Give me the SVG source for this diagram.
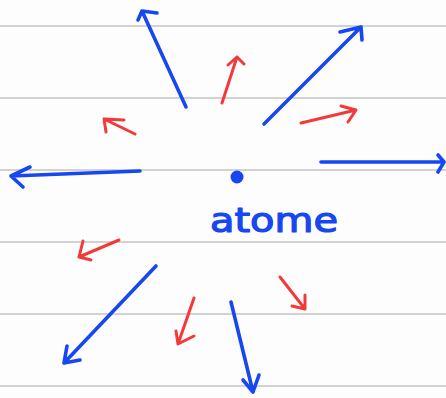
<svg xmlns="http://www.w3.org/2000/svg" width="446" height="398" viewBox="0 0 446 398">
<style>
.rule{stroke:#d2d2d2;stroke-width:2.2}
.b{fill:none;stroke:#1747f0;stroke-width:3.6;stroke-linecap:round;stroke-linejoin:round}
.r{fill:none;stroke:#f23a3a;stroke-width:3;stroke-linecap:round;stroke-linejoin:round}
.lbl{font-family:"DejaVu Sans","Liberation Sans",sans-serif;font-size:33px;fill:#1747f0;stroke:#1747f0;stroke-width:1.2;stroke-linejoin:round}
</style>
<rect width="446" height="398" fill="#fdfdfe"/>
<g id="paper">
<line class="rule" x1="0" y1="26" x2="446" y2="26"/>
<line class="rule" x1="0" y1="98" x2="446" y2="98"/>
<line class="rule" x1="0" y1="170" x2="446" y2="170"/>
<line class="rule" x1="0" y1="242" x2="446" y2="242"/>
<line class="rule" x1="0" y1="314" x2="446" y2="314"/>
<line class="rule" x1="0" y1="386" x2="446" y2="386"/>
</g>
<g id="connectors">
<path class="b" d="M186,107 L142,11 M157,13 L142,11 L138,20"/>
<path class="r" d="M222,103 L237,57 M228,65 L237,57 L244,64"/>
<path class="b" d="M264,124 L361,27 M340,32 L361,27 L362,40"/>
<path class="r" d="M301,123 L356,110 M341,106 L356,110 L348,122"/>
<path class="r" d="M135,134 L104,119 M124,120 L104,119 L106,132"/>
<path class="b" d="M140,171 L11,176 M30,167 L11,176 L23,187"/>
<path class="b" d="M321,162 L444,162 M438,155 L444,162 L438,172"/>
<path class="r" d="M119,240 L79,257 M83,241 L79,257 L91,260"/>
<path class="b" d="M156,266 L64,363 M67,346 L64,363 L80,360"/>
<path class="r" d="M194,298 L178,344 M176,331 L178,344 L194,336"/>
<path class="b" d="M231,302 L253,392 M243,380 L253,392 L259,375"/>
<path class="r" d="M280,277 L305,309 M292,306 L305,309 L305,295"/>
</g>
<g id="atome">
<circle cx="237" cy="177" r="6.5" fill="#1747f0"/>
<text class="lbl" x="210" y="232" textLength="128" lengthAdjust="spacingAndGlyphs">atome</text>
</g>
</svg>
